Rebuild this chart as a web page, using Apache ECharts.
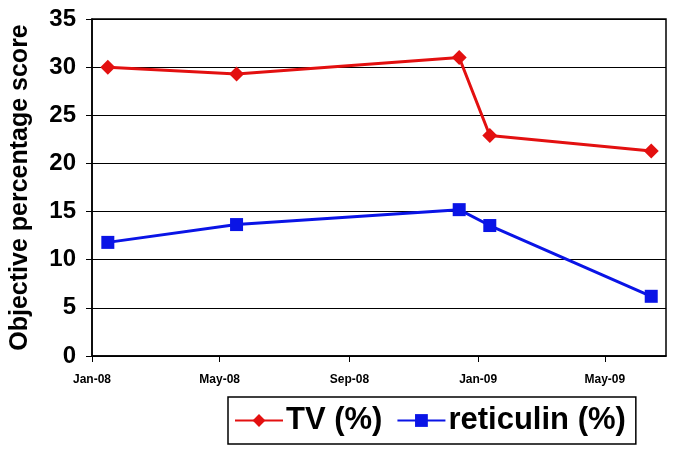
<!DOCTYPE html>
<html>
<head>
<meta charset="utf-8">
<script src="https://cdn.jsdelivr.net/npm/echarts@6/dist/echarts.min.js"></script>
<style>html,body{margin:0;padding:0;background:#fff;}#c{width:679px;height:458px;}</style>
</head>
<body>
<div id="c"></div>
<script>
var dates = ['2008-01-16', '2008-05-17', '2008-12-14', '2009-01-12', '2009-06-14'];
var tvValues = [30.0, 29.3, 31.0, 22.9, 21.3];
var reticulinValues = [11.8, 13.65, 15.2, 13.55, 6.2];
var tickDates = ['2008-01-01', '2008-05-01', '2008-09-01', '2009-01-01', '2009-05-01'];
var tickLabels = ['Jan-08', 'May-08', 'Sep-08', 'Jan-09', 'May-09'];
var seriesNames = ['TV (%)', 'reticulin (%)'];

function ts(s) { var p = s.split('-'); return Date.UTC(+p[0], +p[1] - 1, +p[2]); }
var tickTs = tickDates.map(ts);
var labelMap = {};
tickTs.forEach(function (t, i) { labelMap[t] = tickLabels[i]; });

var chart = echarts.init(document.getElementById('c'));
var font = 'Liberation Sans, Arial, sans-serif';
chart.setOption({
  animation: false,
  backgroundColor: '#fff',
  grid: { left: 92, right: 13, top: 19, bottom: 102, outerBoundsMode: 'none', containLabel: false, show: true, borderColor: '#000', borderWidth: 1.5, backgroundColor: 'transparent' },
  legend: {
    left: 228, top: 397, width: 409, height: 48,
    orient: 'horizontal',
    padding: [8, 10, 8, 6],
    borderColor: '#000', borderWidth: 1.5,
    itemWidth: 48, itemHeight: 16, itemGap: 14,
    textStyle: { fontFamily: font, fontWeight: 'bold', fontSize: 31, color: '#000', padding: [0, 0, 0, -2] },
    data: seriesNames
  },
  xAxis: {
    type: 'value',
    min: ts('2008-01-01'), max: ts('2009-06-28'),
    axisLine: { show: true, onZero: false, lineStyle: { color: '#000', width: 1.5 } },
    axisTick: { show: true, customValues: tickTs, length: 6, lineStyle: { color: '#000', width: 1 } },
    axisLabel: {
      customValues: tickTs,
      formatter: function (v) { return labelMap[v] || ''; },
      fontFamily: font, fontWeight: 'bold', fontSize: 12, color: '#000', margin: 18
    },
    splitLine: { show: false }
  },
  yAxis: {
    type: 'value', min: 0, max: 35, interval: 5,
    name: 'Objective percentage score',
    nameLocation: 'middle', nameGap: 59, nameRotate: 90,
    nameTextStyle: { fontFamily: font, fontWeight: 'bold', fontSize: 25, color: '#000' },
    axisLine: { show: true, lineStyle: { color: '#000', width: 1.5 } },
    axisTick: { show: true, length: 6, lineStyle: { color: '#000', width: 1 } },
    axisLabel: { fontFamily: font, fontWeight: 'bold', fontSize: 24, color: '#000', margin: 16 },
    splitLine: { show: true, lineStyle: { color: '#000', width: 1 } }
  },
  series: [
    {
      name: seriesNames[0], type: 'line',
      data: dates.map(function (d, i) { return [ts(d), tvValues[i]]; }),
      symbol: 'diamond', symbolSize: 15,
      itemStyle: { color: '#e31010' },
      lineStyle: { color: '#e31010', width: 3 }
    },
    {
      name: seriesNames[1], type: 'line',
      data: dates.map(function (d, i) { return [ts(d), reticulinValues[i]]; }),
      symbol: 'rect', symbolSize: 13,
      itemStyle: { color: '#0a14e6' },
      lineStyle: { color: '#0a14e6', width: 3 }
    }
  ]
});
</script>
</body>
</html>
